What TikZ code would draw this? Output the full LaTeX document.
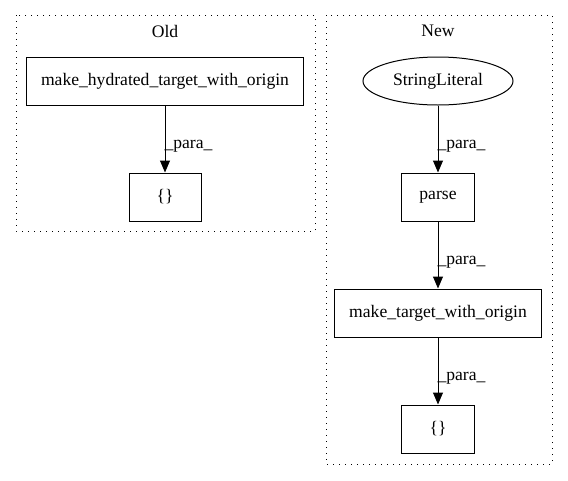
\documentclass[tikz,border=0pt]{standalone}
\usepackage{fontspec}
\setmainfont{Liberation Serif}
\usetikzlibrary{arrows.meta,shapes.geometric}

\begin{document}
\begin{tikzpicture}[x=1pt,y=-1pt,line width=1pt,
  font=\fontsize{17.6}{20}\selectfont,
  box/.style={draw=black,rectangle,minimum height=48pt,inner sep=0pt},
  lit/.style={draw=black,ellipse,minimum width=150pt,minimum height=48pt,inner sep=0pt},
  cluster/.style={draw=black,dash pattern=on 1pt off 5pt,line width=1pt},
  flow/.style={-{Triangle[length=12pt,width=10pt]}},
  lbl/.style={anchor=west,inner sep=0pt}]
\useasboundingbox (0,0) rectangle (568,480);

% Old
\draw[cluster] (16,15) rectangle (315,231);
\node(old) at (165,31) {Old};
\node[box,minimum width=277pt](oldmake) at (165,81) {make\_hydrated\_target\_with\_origin};
\node[box,minimum width=72pt](oldlit) at (165,197) {\{\}};
\node[lbl](p0) at (164,146) {\_para\_};

\draw[flow] (oldmake)--(oldlit);

% New
\draw[cluster] (326,15) rectangle (552,464);
\node(new) at (438,31) {New};
\node[lit](str) at (438,81) {StringLiteral};
\node[box,minimum width=73pt](parse) at (438,197) {parse};
\node[box,minimum width=207pt](newmake) at (438,313) {make\_target\_with\_origin};
\node[box,minimum width=73pt](newlit) at (438,429) {\{\}};
\node[lbl](p1) at (437,146) {\_para\_};
\node[lbl](p2) at (437,262) {\_para\_};
\node[lbl](p3) at (437,378) {\_para\_};

\draw[flow] (str)--(parse);
\draw[flow] (parse)--(newmake);
\draw[flow] (newmake)--(newlit);

\end{tikzpicture}
\end{document}
